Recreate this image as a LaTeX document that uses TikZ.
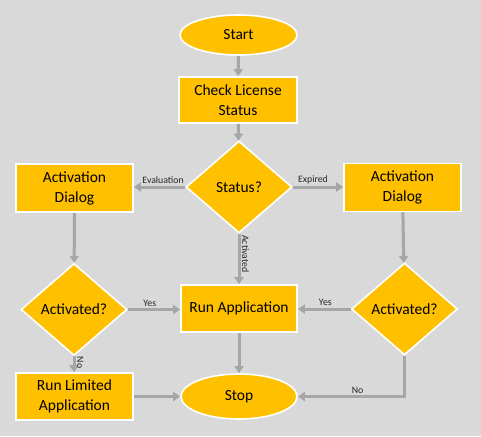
\documentclass[tikz,border=0pt]{standalone}
\usepackage{fontspec}
\setmainfont{Carlito}
\usetikzlibrary{shapes.geometric,arrows.meta}
\definecolor{bg}{HTML}{D9D9D9}
\definecolor{gold}{HTML}{FFC000}
\definecolor{conn}{HTML}{A6A6A6}
\definecolor{lbl}{HTML}{262626}
\tikzset{
  base/.style={fill=gold, draw=white, line width=1.6pt, inner sep=0pt, align=center, text=black, font=\fontsize{15.5}{20}\selectfont},
  term/.style={base, ellipse},
  proc/.style={base, rectangle},
  decide/.style={base, diamond, aspect=1.15, minimum width=106pt, minimum height=92pt},
  flow/.style={draw=conn, line width=3pt, -{Triangle[width=9pt,length=7pt]}},
  tag/.style={font=\fontsize{9.8}{11}\selectfont, text=lbl, inner sep=1.5pt}
}
\begin{document}
\begin{tikzpicture}[x=1pt,y=-1pt]
\fill[bg] (0,0) rectangle (481,436);
\useasboundingbox (0,0) rectangle (481,436);

\node[term, minimum width=117pt, minimum height=40pt] (start) at (238.5,35) {Start};
\node[proc, minimum width=118pt, minimum height=46pt] (check) at (238,100) {Check License\\Status};
\node[decide] (status) at (239,187) {Status?};
\node[proc, minimum width=117pt, minimum height=48pt] (dlgL) at (74.5,188) {Activation\\Dialog};
\node[proc, minimum width=117pt, minimum height=48pt] (dlgR) at (402.5,187.5) {Activation\\Dialog};
\node[decide] (actL) at (74,309.5) {Activated?};
\node[decide] (actR) at (404.5,309) {Activated?};
\node[proc, minimum width=116pt, minimum height=47pt] (run) at (239,308.5) {Run Application};
\node[proc, minimum width=117pt, minimum height=47pt] (lim) at (74.5,396.5) {Run Limited\\Application};
\node[term, minimum width=116pt, minimum height=45pt] (stop) at (239,396.5) {Stop};

\draw[flow] (start) -- (check);
\draw[flow] (check) -- (status);
\draw[flow] (status.west) -- node[tag, pos=0.43, above] {Evaluation} (dlgL.east |- status.west);
\draw[flow] (status.east) -- node[tag, pos=0.4, above] {Expired} (dlgR.west |- status.east);
\draw[flow] (status.south) -- node[tag, pos=0.4, anchor=south, rotate=-90] {Activated} (run.north -| status.south);
\draw[flow] (dlgL) -- (actL);
\draw[flow] (dlgR) -- (actR);
\draw[flow] (actL.east) -- node[tag, pos=0.42, above] {Yes} (run.west |- actL.east);
\draw[flow] (actR.west) -- node[tag, pos=0.48, above] {Yes} (run.east |- actR.west);
\draw[flow] (actL.south) -- node[tag, pos=0.4, anchor=south, rotate=-90] {No} (lim.north -| actL.south);
\draw[flow] (run) -- (stop);
\draw[flow] (lim.east) -- (stop.west);
\draw[flow] (actR.south) |- node[tag, pos=0.72, above] {No} (stop.east);
\end{tikzpicture}
\end{document}
